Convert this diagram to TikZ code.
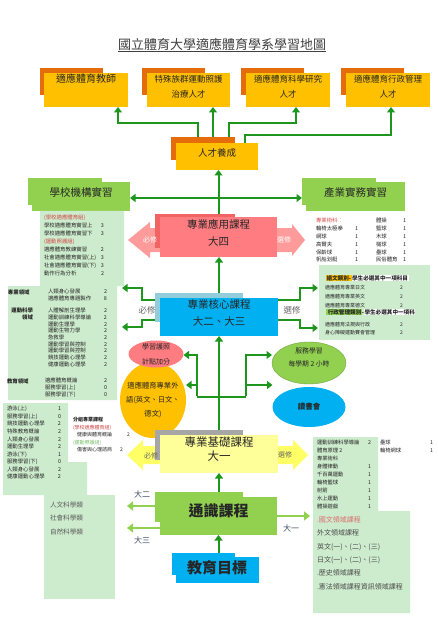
\documentclass[tikz,border=0pt]{standalone}
\usepackage{fontspec}
\setmainfont{Noto Sans CJK TC}
\usetikzlibrary{arrows.meta,shapes.geometric,fit}
\definecolor{gr}{HTML}{1E961E}
\definecolor{lg}{HTML}{92D050}
\definecolor{pn}{HTML}{CDEBCD}
\definecolor{gold}{HTML}{FFC000}
\definecolor{org}{HTML}{E46C0A}
\definecolor{blu}{HTML}{00B0F0}
\definecolor{lblu}{HTML}{92CDDC}
\definecolor{pk}{HTML}{FF7C80}
\definecolor{pkb}{HTML}{F26464}
\definecolor{pka}{HTML}{FF9B9B}
\definecolor{yb}{HTML}{FFFF99}
\definecolor{ya}{HTML}{FFFF66}
\definecolor{gy}{HTML}{A6A6A6}
\definecolor{rt}{HTML}{D04A4A}
\definecolor{gt}{HTML}{7DBE6E}
\definecolor{tx}{HTML}{262626}
\definecolor{lab}{HTML}{3F4A63}
\newcommand{\fz}[2]{\fontsize{#1}{#2}\selectfont}
\newcommand{\rowi}[3]{\makebox[#1][l]{#2}#3}
\begin{document}
\begin{tikzpicture}[x=1pt,y=-1pt,
  every node/.style={inner sep=0pt,outer sep=0pt,text=tx},
  garr/.style={draw=gr,line width=2pt,-{Triangle[length=5.5pt,width=8pt]}},
  gln/.style={draw=gr,line width=2pt},
  lgarr/.style={draw=lg,line width=2.8pt,-{Triangle[length=6pt,width=9pt]}},
  lst/.style={anchor=north west,align=left},
  grlab/.style={font=\fz{8.5}{10},text=black!60},
  yrlab/.style={font=\fz{8}{10},text=lab}]
\useasboundingbox (0,0) rectangle (438,620);
\fill[white] (0,0) rectangle (438,620);

% title
\node[font=\fz{13}{15},text=black!75] (title) at (222,45) {\underline{國立體育大學適應體育學系學習地圖}};

% top boxes
\node[fit={(40,68)(103,95)},fill=org] (t1b) {};
\node[fit={(44,73)(128,107)},fill=gold,align=center,font=\fz{10}{15}] (t1) {適應體育教師\\\phantom{人}};
\node[fit={(142,68)(205,95)},fill=org] (t2b) {};
\node[fit={(147,73)(230,107)},fill=gold,align=center,font=\fz{8.5}{15}] (t2) {特殊族群運動照護\\治療人才};
\node[fit={(241,68)(304,95)},fill=org] (t3b) {};
\node[fit={(246,73)(330,107)},fill=gold,align=center,font=\fz{8.5}{15}] (t3) {適應體育科學研究\\人才};
\node[fit={(341,68)(404,95)},fill=org] (t4b) {};
\node[fit={(346,73)(430,107)},fill=gold,align=center,font=\fz{8.5}{15}] (t4) {適應體育行政管理\\人才};

% talent box
\node[fit={(171,137)(235,160)},fill=org] (rcb) {};
\node[fit={(176,143)(258,170)},fill=gold,font=\fz{9.5}{11}] (rc) {人才養成};

% internship boxes
\node[fit={(28,178)(102,205)},fill=lg] (schb) {};
\node[fit={(32,182)(130,211)},fill=lg,font=\fz{10.5}{12}] (sch) {學校機構實習};
\node[fit={(302,178)(376,205)},fill=lg] (indb) {};
\node[fit={(306,182)(405,211)},fill=lg,font=\fz{10.5}{12}] (ind) {產業實務實習};

% panels
\fill[pn] (40,211) -- (124,211) -- (124,286) -- (117,286) -- (117,400) -- (8,400) -- (8,286) -- (40,286) -- cycle;
\fill[pn] (3,403) -- (68,403) -- (68,462) -- (87,462) -- (87,495) -- (3,495) -- cycle;
\fill[pn] (44,495) rectangle (115,599);
\node[fit={(319,265)(430,340)},fill=pn] (mp) {};
\fill[pn] (313,437) -- (378,437) -- (378,511) -- (410,511) -- (410,613) -- (313,613) -- cycle;

% panel texts, left
\node[lst,font=\fz{5.4}{7.95}] (pa1) at (44,215.3) {\textcolor{rt}{(學校適應體育組)}\\
\rowi{57pt}{學校適應體育實習上}{3}\\
\rowi{57pt}{學校適應體育實習下}{3}\\
\textcolor{rt}{(運動照護組)}\\
\rowi{57pt}{適應體育教練實習}{2}\\
\rowi{57pt}{社會適應體育實習(上)}{3}\\
\rowi{57pt}{社會適應體育實習(下)}{3}\\
\rowi{57pt}{動作行為分析}{2}};
\node[anchor=west,font=\bfseries\fz{5.4}{7}] (lb1) at (8,292) {專業領域};
\node[anchor=north east,align=right,font=\bfseries\fz{5.4}{7}] (lb2) at (33,308.3) {運動科學\\領域};
\node[anchor=west,font=\bfseries\fz{5.4}{7}] (lb3) at (7,381) {教育領域};
\node[lst,font=\fz{5.4}{7}] (pb1) at (48,289.3) {\rowi{56pt}{人類身心發展}{2}\\\rowi{56pt}{適應體育專題製作}{8}};
\node[lst,font=\fz{5.4}{6.65}] (pb2) at (48,308.3) {\rowi{56pt}{人體解剖生理學}{2}\\
\rowi{56pt}{運動訓練科學導論}{2}\\
\rowi{56pt}{運動生理學}{2}\\
\rowi{56pt}{運動生物力學}{2}\\
\rowi{56pt}{急救學}{2}\\
\rowi{56pt}{運動學習與控制}{2}\\
\rowi{56pt}{運動學習與控制}{2}\\
\rowi{56pt}{競技運動心理學}{2}\\
\rowi{56pt}{健康運動心理學}{2}};
\node[lst,font=\fz{5.4}{7}] (pb3) at (45,378.3) {\rowi{59pt}{適應體育概論}{2}\\\rowi{59pt}{服務學習(上)}{0}\\\rowi{59pt}{服務學習(下)}{0}};
\node[lst,font=\fz{5.4}{7.55}] (pc1) at (7,406.3) {\rowi{51pt}{游泳(上)}{1}\\
\rowi{51pt}{服務學習(上)}{0}\\
\rowi{51pt}{競技運動心理學}{2}\\
\rowi{51pt}{特殊教育概論}{2}\\
\rowi{51pt}{人類身心發展}{2}\\
\rowi{51pt}{運動生理學}{2}\\
\rowi{51pt}{游泳(下)}{1}\\
\rowi{51pt}{服務學習(下)}{0}\\
\rowi{51pt}{人類身心發展}{2}\\
\rowi{51pt}{健康運動心理學}{2}};
\node[lst,font=\fz{5}{7.5}] (pg) at (73,417.5) {\textbf{分組專業課程}\\
\textcolor{rt}{(學校適應體育組)}\\
\hspace*{4pt}\rowi{50pt}{健康與體育概論}{2}\\
\textcolor{gt}{(運動照護組)}\\
\hspace*{4pt}\rowi{43pt}{傷害與心理諮商}{2}};
\node[lst,font=\fz{6.6}{13.5},text=black!65] (ph) at (50,501.7) {人文科學類\\社會科學類\\自然科學類};

% panel texts, right
\node[lst,font=\fz{5.4}{7.8}] (pr1) at (316,218.3) {\textcolor{rt}{專業術科：}\\
\rowi{39pt}{輪椅太極拳}{1}\\
\rowi{39pt}{網球}{1}\\
\rowi{39pt}{高爾夫}{1}\\
\rowi{39pt}{保齡球}{1}\\
\rowi{39pt}{帆船划艇}{1}};
\node[lst,font=\fz{5.4}{7.8}] (pr2) at (376,218.3) {\rowi{27pt}{體操}{1}\\
\rowi{27pt}{籃球}{1}\\
\rowi{27pt}{木球}{1}\\
\rowi{27pt}{槌球}{1}\\
\rowi{27pt}{壘球}{1}\\
\rowi{27pt}{民俗體育}{1}};
\node[anchor=west,font=\bfseries\fz{5.6}{7}] (mh1) at (326,278) {\setlength{\fboxsep}{0.5pt}\colorbox{gold}{語文類別-}\colorbox{white}{學生必選其中一項科目}};
\node[lst,font=\fz{5}{9}] (mi1) at (325,285.5) {\rowi{75pt}{適應體育專業日文}{2}\\\rowi{75pt}{適應體育專業英文}{2}\\\rowi{75pt}{適應體育專業德文}{2}};
\node[anchor=west,font=\bfseries\fz{5.6}{7}] (mh2) at (326,312) {\setlength{\fboxsep}{0.5pt}\colorbox{lg}{\ 行政管理類別}-\colorbox{white}{學生必選其中一項科}};
\node[lst,font=\fz{5}{8}] (mi2) at (325,322.5) {\rowi{75pt}{適應體育法規與行政}{2}\\\rowi{75pt}{身心障礙運動賽會管理}{2}};
\node[lst,font=\fz{5.3}{8}] (br1) at (317,440.3) {\rowi{51pt}{運動訓練科學導論}{2}\\
體育原理 2\\
專業術科\\
\rowi{51pt}{身體律動}{1}\\
\rowi{51pt}{千百萬運動}{1}\\
\rowi{51pt}{輪椅籃球}{1}\\
\rowi{51pt}{射箭}{1}\\
\rowi{51pt}{水上運動}{1}\\
\rowi{51pt}{體操遊戲}{1}};
\node[lst,font=\fz{5.3}{8}] (br2) at (380,440.3) {\rowi{50pt}{壘球}{1}\\\rowi{50pt}{輪椅網球}{1}};
\node[lst,font=\fz{7}{13.4},text=black!70] (br3) at (317,516.3) {\textcolor{rt!80}{.國文領域課程}\\外文領域課程\\英文(一)、(二)、(三)\\日文(一)、(二)、(三)\\.歷史領域課程\\.憲法領域課程資訊領域課程};

% applied course (pink) with double arrow
\fill[pka] (128,240) -- (150,222) -- (150,228) -- (292,228) -- (292,224) -- (305,240) -- (292,256) -- (292,252) -- (150,252) -- (150,258) -- cycle;
\node[fit={(155,214)(235,248)},fill=pkb] (pab) {};
\node[fit={(160,217)(277,257)},fill=pk,align=center,font=\fz{10.5}{17}] (pa) {專業應用課程\\大四};
\node[font=\fz{7}{8},text=white] (paL) at (150,240) {必修};
\node[font=\fz{7}{8},text=white] (paR) at (284,240) {選修};

% core course (blue)
\node[fit={(155,293)(243,322)},fill=lblu] (cob) {};
\node[fit={(160,298)(278,336)},fill=blu,align=center,font=\fz{10.5}{17}] (co) {專業核心課程\\大二、大三};
\node[grlab] (coL) at (147,310) {必修};
\node[grlab] (coR) at (292,310) {選修};

% ellipses
\node[ellipse,fill=gold,minimum width=66pt,minimum height=76pt] (fl) at (153,400) {};
\node[align=center,font=\fz{7.3}{14}] (flt) at (fl.center) {適應體育專業外\\語(英文、日文、\\德文)};
\node[ellipse,fill=pk,minimum width=55pt,minimum height=27pt] (pp) at (156,354) {};
\node[align=center,font=\fz{7}{15}] (ppt) at (pp.center) {學習護照\\計點加分};
\node[ellipse,fill=lg,draw=lg!80!black,line width=0.4pt,minimum width=74pt,minimum height=42pt] (sv) at (309,363) {};
\node[align=center,font=\fz{6.8}{13}] (svt) at (309,357) {服務學習\\每學期 2 小時};
\node[ellipse,fill=blu,minimum width=73pt,minimum height=40pt] (rd) at (309,407) {};
\node[font=\bfseries\fz{7.5}{9}] (rdt) at (rd.center) {讀書會};

% foundation course (yellow)
\fill[ya] (127,455) -- (143,440) -- (143,446) -- (293,446) -- (293,440) -- (308,455) -- (293,470) -- (293,464) -- (143,464) -- (143,470) -- cycle;
\node[fit={(155,430)(243,460)},fill=gy] (fbb) {};
\node[fit={(160,435)(278,473)},fill=yb,align=center,font=\fz{11.5}{13.5}] (fb) {專業基礎課程\\大一};
\node[font=\fz{7}{8},text=black!60] (fbL) at (151,456) {必修};
\node[font=\fz{7}{8},text=black!60] (fbR) at (285,455) {選修};

% general and goal
\node[fit={(155,492)(243,522)},fill=lg] (geb) {};
\node[fit={(160,497)(277,535)},fill=lg] (ge) {};
\node[font=\bfseries\fz{15}{17}] (get) at (218.5,511) {通識課程};
\node[fit={(172,553)(235,575)},fill=blu] (egb) {};
\node[fit={(176,557)(259,583)},fill=blu] (eg) {};
\node[font=\bfseries\fz{15}{17}] (egt) at (217,568) {教育目標};

% connectors: talent to careers
\coordinate (k0) at (213,0);
\coordinate (k1) at (198,123); \coordinate (k2) at (118,123);
\coordinate (k3) at (229,123); \coordinate (k4) at (296,123);
\coordinate (k5) at (245,135); \coordinate (k6) at (391,135);
\draw[garr] (k1 |- rcb.north) -- (k1) -- (k2) -- (k2 |- t1.south);
\draw[garr] (k0 |- rcb.north) -- (k0 |- t2.south);
\draw[garr] (k3 |- rcb.north) -- (k3) -- (k4) -- (k4 |- t3.south);
\draw[garr] (k5 |- rc.north) -- (k5) -- (k6) -- (k6 |- t4.south);

% applied to talent, internships
\draw[garr] (pa.north |- pab.north) -- (pa.north |- rc.south);
\coordinate (hh) at (218.5,198);
\draw[garr] (hh) -- (hh -| sch.east);
\draw[garr] (hh) -- (hh -| indb.west);

% core to applied
\draw[garr] (co.north |- cob.north) -- (co.north |- pa.south);
\coordinate (bL1) at (142,300); \coordinate (tL1) at (122,288);
\coordinate (bL2) at (142,320); \coordinate (tL2) at (122,327);
\draw[garr] (bL1 -| cob.west) -- (bL1) |- (tL1);
\draw[garr] (bL2 -| cob.west) -- (bL2) |- (tL2);
\coordinate (bR1) at (300,300); \coordinate (tR1) at (318,288);
\coordinate (bR2) at (300,320); \coordinate (tR2) at (318,328);
\draw[garr] (bR1 -| co.east) -- (bR1) |- (tR1);
\draw[garr] (bR2 -| co.east) -- (bR2) |- (tR2);

% foundation to core and activities
\draw[garr] (fb.north |- fbb.north) -- (fb.north |- co.south);
\coordinate (bl) at (197,397); \coordinate (br) at (246,397);
\coordinate (ul) at (197,355); \coordinate (ur) at (246,355);
\coordinate (ml) at (197,385); \coordinate (mr) at (246,385);
\draw[gln] (bl) -- (br);
\draw[gln] ([yshift=1pt]bl) -- (ul);
\draw[gln] ([yshift=1pt]br) -- (ur);
\draw[garr] ([xshift=1pt]ul) -- (ul -| pp.east);
\draw[garr] (ml) -- (ml -| fl.east);
\draw[garr] ([xshift=-1pt]ur) -- (ur -| sv.west);
\draw[garr] (mr) -- (mr -| rd.west);

% general to foundation, goal to general
\draw[garr] (fb.south |- geb.north) -- (fb.south);
\draw[garr] (ge.south |- egb.north) -- (ge.south);

% general side arrows
\coordinate (g2) at (127,506); \coordinate (g3) at (127,528); \coordinate (g1) at (310,516);
\draw[lgarr] (geb.west |- g2) -- (g2);
\draw[lgarr] (ge.west |- g3) -- (g3);
\draw[lgarr] (ge.east |- g1) -- (g1);
\node[yrlab] (y2) at (142,494) {大二};
\node[yrlab] (y3) at (142,540) {大三};
\node[yrlab] (y1) at (291,528) {大一};
\end{tikzpicture}
\end{document}
